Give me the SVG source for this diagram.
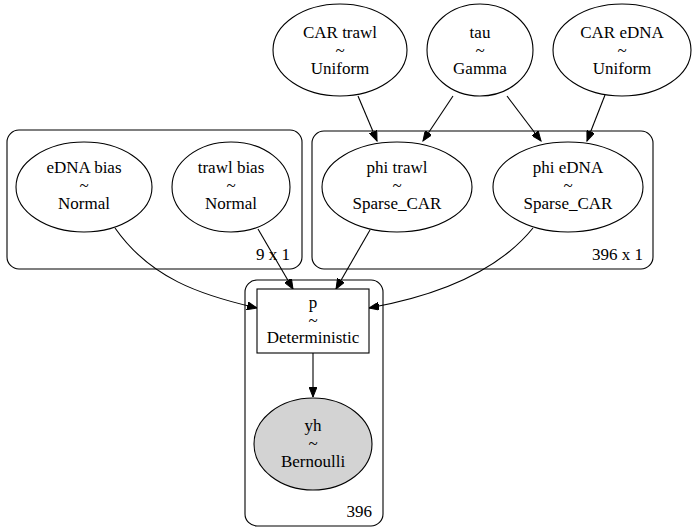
<svg xmlns="http://www.w3.org/2000/svg" width="693" height="529" viewBox="0 0 693 529">
<style>
text{font-family:"Liberation Serif","Times New Roman",serif;font-size:17px;fill:#000;text-anchor:middle}
.n{fill:#fff;stroke:#000;stroke-width:1.1}
.obs{fill:#d3d3d3;stroke:#000;stroke-width:1.1}
.plate{fill:none;stroke:#000;stroke-width:1.1}
.e{fill:none;stroke:#000;stroke-width:1.1;marker-end:url(#arr)}
.r{text-anchor:end}
</style>
<defs>
<marker id="arr" markerUnits="userSpaceOnUse" markerWidth="11" markerHeight="8" refX="10" refY="4" orient="auto">
<path d="M0,0 L10,4 L0,8 z" fill="#000" stroke="#000" stroke-width="1"/>
</marker>
</defs>
<rect width="693" height="529" fill="#fff"/>
<g id="plate_9x1">
<rect class="plate" x="7" y="130" width="295" height="139" rx="12"/>
<text class="r" x="290" y="260">9 x 1</text>
</g>
<g id="plate_396x1">
<rect class="plate" x="312" y="131" width="341" height="138" rx="12"/>
<text class="r" x="643" y="260">396 x 1</text>
</g>
<g id="plate_396">
<rect class="plate" x="245" y="280" width="138" height="246" rx="12"/>
<text class="r" x="372" y="517">396</text>
</g>
<g id="connectors">
<line class="e" x1="358" y1="96" x2="377" y2="141"/>
<line class="e" x1="453" y1="96" x2="423" y2="141"/>
<line class="e" x1="507" y1="96" x2="541" y2="141"/>
<line class="e" x1="605" y1="95" x2="587" y2="141"/>
<line class="e" x1="258" y1="229" x2="293" y2="289"/>
<line class="e" x1="370" y1="230" x2="336" y2="289"/>
<path class="e" d="M115,228 C150,278 200,295 257,308"/>
<path class="e" d="M533,228 C495,275 430,297 369,308"/>
<line class="e" x1="313" y1="353" x2="313" y2="397"/>
</g>
<g id="CAR_trawl">
<ellipse class="n" cx="340" cy="50" rx="67" ry="46"/>
<text x="340" y="38">CAR trawl</text><text x="340" y="56">~</text><text x="340" y="74">Uniform</text>
</g>
<g id="tau">
<ellipse class="n" cx="480" cy="50" rx="53" ry="46"/>
<text x="480" y="38">tau</text><text x="480" y="56">~</text><text x="480" y="74">Gamma</text>
</g>
<g id="CAR_eDNA">
<ellipse class="n" cx="622" cy="50" rx="69" ry="46"/>
<text x="622" y="38">CAR eDNA</text><text x="622" y="56">~</text><text x="622" y="74">Uniform</text>
</g>
<g id="eDNA_bias">
<ellipse class="n" cx="84" cy="187" rx="68" ry="45"/>
<text x="84" y="173">eDNA bias</text><text x="84" y="191">~</text><text x="84" y="209">Normal</text>
</g>
<g id="trawl_bias">
<ellipse class="n" cx="231" cy="187" rx="59" ry="45"/>
<text x="231" y="173">trawl bias</text><text x="231" y="191">~</text><text x="231" y="209">Normal</text>
</g>
<g id="phi_trawl">
<ellipse class="n" cx="397" cy="187" rx="75" ry="45"/>
<text x="397" y="173">phi trawl</text><text x="397" y="191">~</text><text x="397" y="209">Sparse_CAR</text>
</g>
<g id="phi_eDNA">
<ellipse class="n" cx="568" cy="187" rx="75" ry="45"/>
<text x="568" y="173">phi eDNA</text><text x="568" y="191">~</text><text x="568" y="209">Sparse_CAR</text>
</g>
<g id="p">
<rect class="n" x="257" y="289" width="112" height="64"/>
<text x="313" y="308">p</text><text x="313" y="325.5">~</text><text x="313" y="343">Deterministic</text>
</g>
<g id="yh">
<ellipse class="obs" cx="313" cy="444" rx="59" ry="46"/>
<text x="313" y="431">yh</text><text x="313" y="449">~</text><text x="313" y="467">Bernoulli</text>
</g>
</svg>
